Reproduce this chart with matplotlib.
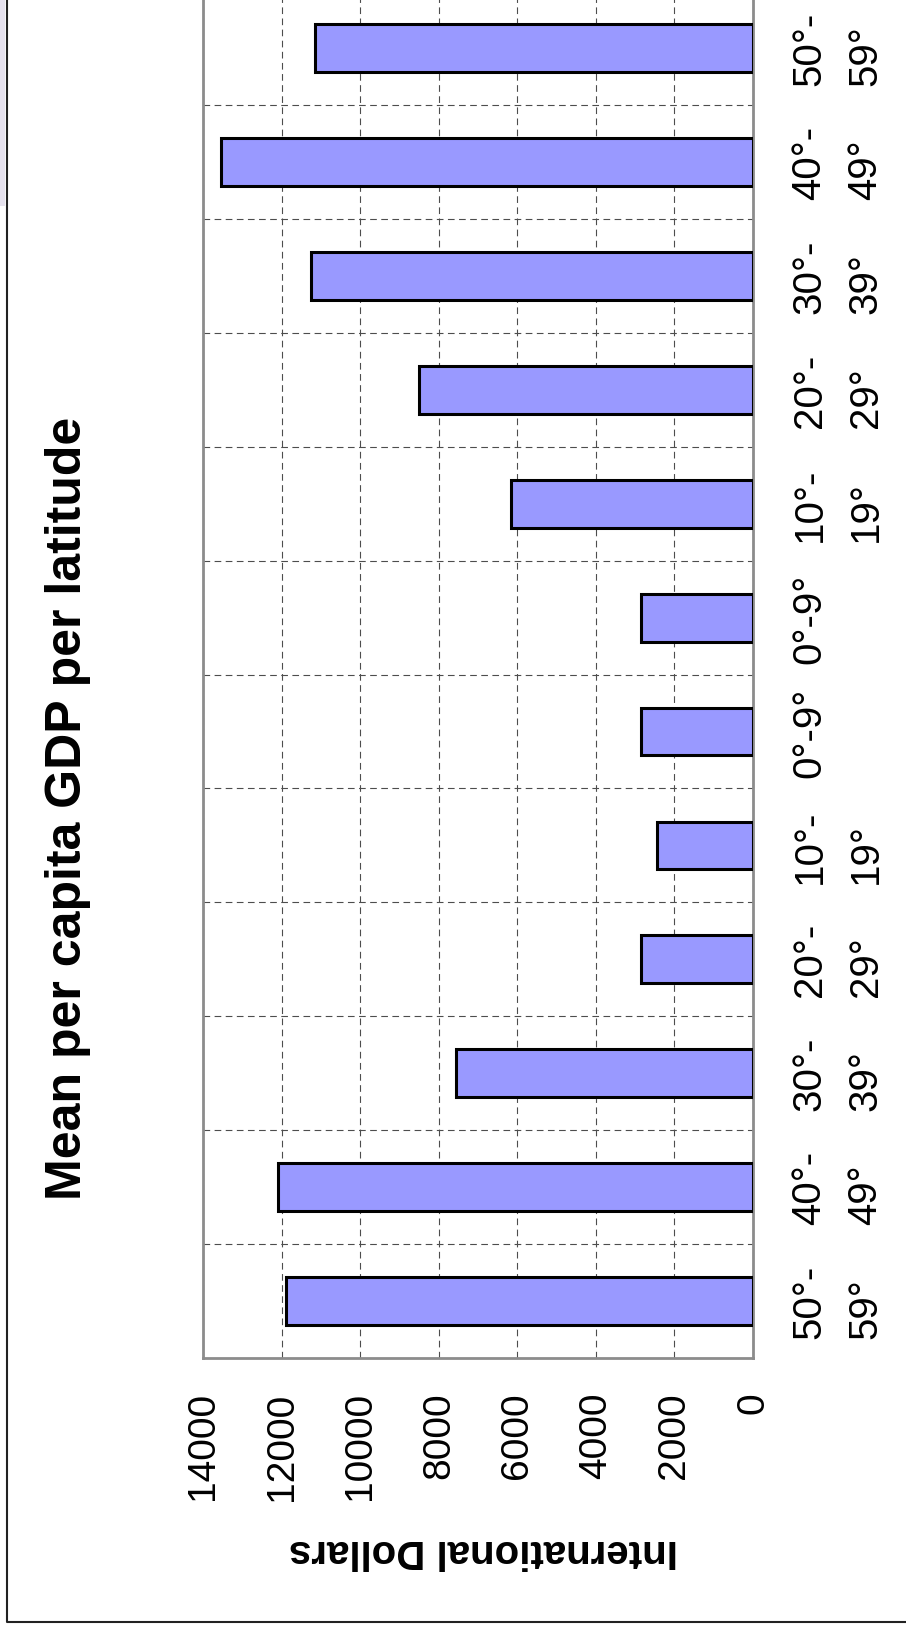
import numpy as np
import matplotlib
matplotlib.use('Agg')
import matplotlib.pyplot as plt
from matplotlib.lines import Line2D
from matplotlib.patches import Rectangle

# latitude bands, listed from the bottom of the chart to the top
lat_labels = ['50°-\n59°', '40°-\n49°', '30°-\n39°', '20°-\n29°', '10°-\n19°', '0°-9°',
              '0°-9°', '10°-\n19°', '20°-\n29°', '30°-\n39°', '40°-\n49°', '50°-\n59°']
# mean per capita GDP (international dollars) for each band
gdp = [11900, 12090, 7560, 2840, 2440, 2840,
       2840, 6150, 8500, 11250, 13530, 11150]
value_ticks = [0, 2000, 4000, 6000, 8000, 10000, 12000, 14000]

plt.rcParams['font.family'] = ['Liberation Sans', 'DejaVu Sans']

fig = plt.figure(figsize=(9.06, 16.33), dpi=100)
ax = fig.add_axes([0.2241, 0.16779, 0.6071, 0.8370])

pos = np.arange(len(gdp))
ax.barh(pos, gdp, height=0.42, color='#9999ff', edgecolor='black', linewidth=2.2, zorder=3)
ax.set_xlim(14000, 0)
ax.set_ylim(-0.5, 11.5)

# value axis along the bottom, labels turned on their side
ax.set_xticks(value_ticks)
ax.set_xticklabels([str(v) for v in value_ticks], rotation=90, ha='center', va='top', fontsize=28)
ax.tick_params(axis='x', length=0, pad=24)

# latitude labels on the right
ax.yaxis.tick_right()
ax.set_yticks(pos)
ax.set_yticklabels(lat_labels, rotation=90, ha='left', va='center', multialignment='left',
                   linespacing=1.6, fontsize=29)
ax.set_yticks(pos[:-1] + 0.5, minor=True)
ax.tick_params(axis='y', which='both', length=0, pad=27)

ax.set_axisbelow(True)
ax.xaxis.grid(True, which='major', linestyle=(0, (6, 4)), linewidth=0.8, color='#4d4d4d')
ax.yaxis.grid(False, which='major')
ax.yaxis.grid(True, which='minor', linestyle=(0, (6, 4)), linewidth=0.8, color='#4d4d4d')

ax.spines['top'].set_visible(False)
for side in ['left', 'right', 'bottom']:
    ax.spines[side].set_color('#8c8c8c')
    ax.spines[side].set_linewidth(2)

fig.text(0.0756, 0.5052, 'Mean per capita GDP per latitude', rotation=90,
         ha='center', va='center', fontsize=36, fontweight='bold')
fig.text(0.534, 0.0502, 'International Dollars', rotation=180,
         ha='center', va='center', fontsize=29, fontweight='bold')

# page frame and shadow strip
fig.add_artist(Line2D([7 / 906, 7 / 906, 1.0], [1.0, 10 / 1633, 10 / 1633],
                      transform=fig.transFigure, color='#222222', linewidth=1.5))
fig.add_artist(Rectangle((0, 1 - 207 / 1633), 5 / 906, 207 / 1633,
                         transform=fig.transFigure, color='#e6e2ee', linewidth=0))

fig.savefig('out.png', dpi=100)
